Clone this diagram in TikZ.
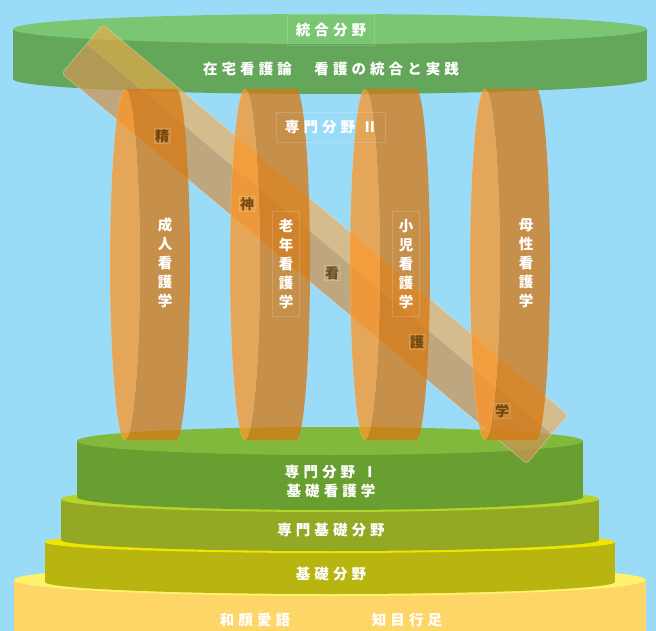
\documentclass[tikz,border=0pt]{standalone}
\usepackage{fontspec}
\newfontfamily\jp{Noto Sans CJK JP}
\newfontfamily\jpls{Noto Sans CJK JP}[LetterSpace=28]
\definecolor{bg}{RGB}{154,220,248}
\definecolor{baseside}{RGB}{254,214,104}
\definecolor{basetop}{RGB}{255,242,110}
\definecolor{yelside}{RGB}{184,180,16}
\definecolor{yeltop}{RGB}{238,230,0}
\definecolor{olside}{RGB}{148,168,36}
\definecolor{oltop}{RGB}{182,212,42}
\definecolor{grside}{RGB}{105,158,48}
\definecolor{grtop}{RGB}{130,185,60}
\definecolor{tdside}{RGB}{101,167,90}
\definecolor{tdtop}{RGB}{122,198,115}
\definecolor{pillight}{RGB}{254,149,37}
\definecolor{pildark}{RGB}{215,119,16}
\definecolor{banda}{RGB}{251,167,68}
\definecolor{bandb}{RGB}{150,130,100}
\definecolor{bandtext}{RGB}{80,50,5}
\tikzset{
  lbl/.style={text=white, font=\jpls\bfseries\fontsize{14.5}{19}\selectfont, inner sep=0pt},
  vlbl/.style={text=white, font=\jp\bfseries\fontsize{14.5}{19}\selectfont, align=center, inner sep=0pt},
  faintbox/.style={draw=white, draw opacity=.16, line width=.6pt},
  bandch/.style={text=bandtext, text opacity=.75, font=\jp\bfseries\fontsize{14}{16}\selectfont, inner sep=1pt,
     fill=white, fill opacity=.06, draw=white, draw opacity=.14, line width=.5pt},
  pilL/.style={fill=pillight, fill opacity=.75, draw=white, draw opacity=.2, line width=.5pt},
  pilD/.style={fill=pildark, fill opacity=.75},
  bandA/.style={fill=banda, fill opacity=.6, draw=white, draw opacity=.3, line width=.6pt},
  bandB/.style={fill=bandb, fill opacity=.35, draw=white, draw opacity=.2, line width=.5pt},
}
\begin{document}
\begin{tikzpicture}[x=1pt,y=-1pt]
\fill[bg] (0,0) rectangle (656,631);
\clip (0,0) rectangle (656,631);
% base disc
\fill[baseside] (14,580) rectangle (646,640);
\fill[basetop] (330,580) ellipse[x radius=316, y radius=16];
% yellow disc
\fill[yelside] (45,542) rectangle (615,582);
\fill[yelside] (330,582) ellipse[x radius=285, y radius=12];
\fill[yeltop] (330,542) ellipse[x radius=285, y radius=11];
% olive disc
\fill[olside] (61,499) rectangle (599,540);
\fill[olside] (330,540) ellipse[x radius=269, y radius=11];
\fill[oltop] (330,499) ellipse[x radius=269, y radius=13];
% green disc
\fill[grside] (77,441) rectangle (583,497);
\fill[grside] (330,497) ellipse[x radius=253, y radius=13];
\fill[grtop] (330,441) ellipse[x radius=253, y radius=14];
% top disc
\fill[tdside] (13,29) rectangle (647,79);
\fill[tdside] (330,79) ellipse[x radius=317, y radius=15];
\fill[tdtop] (330,29) ellipse[x radius=317, y radius=15];
% diagonal band
\begin{scope}[shift={(103,24.5)}, rotate=-40]
  \path[bandA, rounded corners=3] (0,0) rectangle (607,64);
  \path[bandB, rounded corners=3] (0,25) rectangle (607,64);
\end{scope}
% pillars
\foreach \L in {110,230,350,470}{
  \path[pilL] (\L+15,264.5) ellipse[x radius=15, y radius=175.5];
  \path[pilD] (\L+15,89) -- (\L+66,89)
     arc[start angle=-90, end angle=90, x radius=14, y radius=175.5]
     -- (\L+15,440)
     arc[start angle=90, end angle=-90, x radius=15, y radius=175.5] -- cycle;
}
% labels
\node[lbl, faintbox, minimum width=87, minimum height=31] (togo) at (331,30) {統合分野};
\node[lbl] (zaitaku) at (331,69) {在宅看護論　看護の統合と実践};
\node[lbl, faintbox, minimum width=109, minimum height=30] (senmon2) at (331,127) {専門分野 Ⅱ};
\node[vlbl] (seijin) at (165,263) {成\\人\\看\\護\\学};
\node[vlbl, faintbox, minimum width=27, minimum height=105] (ronen) at (286,264) {老\\年\\看\\護\\学};
\node[vlbl, faintbox, minimum width=27, minimum height=105] (shoni) at (406,264) {小\\児\\看\\護\\学};
\node[vlbl] (bosei) at (526,263) {母\\性\\看\\護\\学};
\node[bandch] (c1) at (162,136) {精};
\node[bandch] (c2) at (247,204) {神};
\node[bandch] (c3) at (332,273) {看};
\node[bandch] (c4) at (417,342) {護};
\node[bandch] (c5) at (502,411) {学};
\node[lbl, align=center] (senmon1) at (331,482) {専門分野 Ⅰ\\基礎看護学};
\node[lbl] (senki) at (331,530) {専門基礎分野};
\node[lbl] (kiso) at (331,574) {基礎分野};
\node[lbl] (wagan) at (255,620) {和顔愛語};
\node[lbl] (chimoku) at (407,620) {知目行足};
\end{tikzpicture}
\end{document}
